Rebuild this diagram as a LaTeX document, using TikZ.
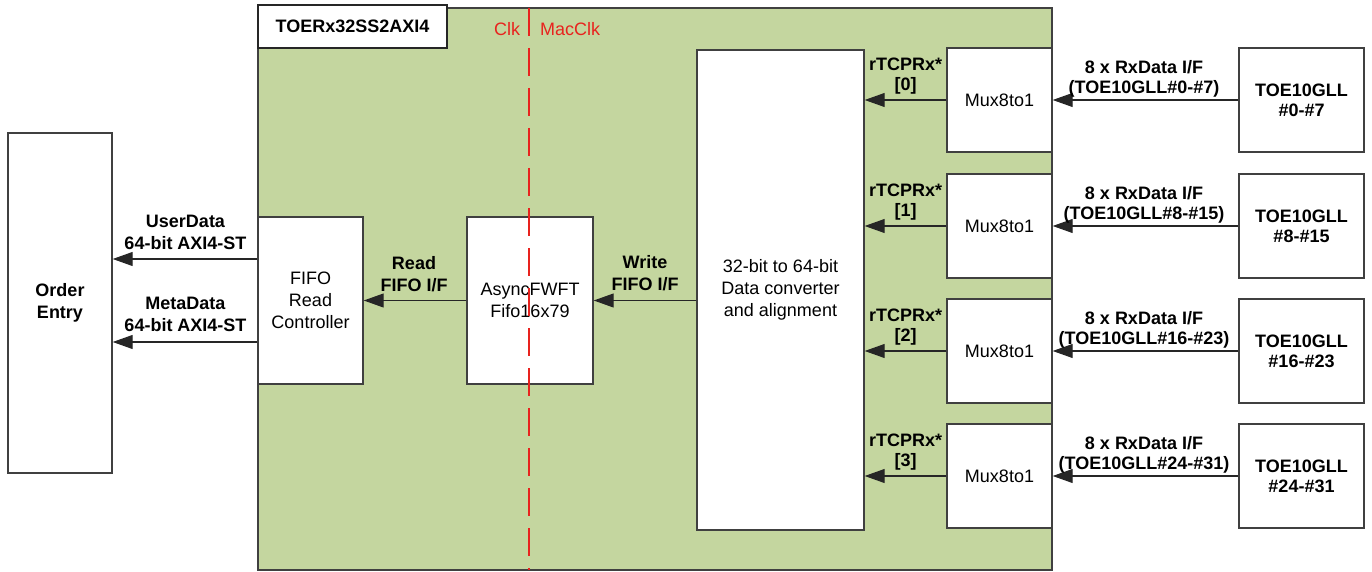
\documentclass[tikz,border=0pt]{standalone}
\usepackage{fontspec}
\setmainfont{Liberation Sans}
\usetikzlibrary{arrows.meta,calc}
\definecolor{grn}{HTML}{C4D69F}
\definecolor{edgegray}{HTML}{404040}
\definecolor{clkred}{HTML}{E8231E}
\newcommand\dfont{\fontsize{18}{22}\selectfont}
\newcommand\rfont{\fontsize{18}{20}\selectfont}
\begin{document}
\begin{tikzpicture}[x=1pt,y=-1pt,
  box/.style={draw=edgegray, line width=1.4pt, fill=white, inner sep=0pt, align=center, font=\dfont},
  bbox/.style={box, font=\dfont\bfseries},
  lbl/.style={inner sep=0pt, align=center, font=\dfont\bfseries},
  rlbl/.style={inner sep=0pt, align=center, font=\rfont\bfseries},
  arr/.style={draw=black!85, line width=1.1pt, -{Triangle[length=20pt,width=14pt]}},
  clklbl/.style={inner sep=0pt, text=clkred, font=\dfont}]
\useasboundingbox (0,0) rectangle (1372,572);
% subsystem background
\node[draw=edgegray, line width=1.4pt, fill=grn, inner sep=0pt, minimum width=794pt, minimum height=562pt] (sub) at (655,289) {};
% clock domain divider
\coordinate (clktop) at (529,8);
\coordinate (clkbot) at (529,570);
\node[clklbl] (clk) at (507,29) {Clk};
\node[clklbl] (macclk) at (570,29) {MacClk};
% title
\node[draw=black!85, line width=2pt, fill=white, inner sep=0pt, minimum width=189pt, minimum height=43pt, font=\dfont\bfseries] (title) at (352.5,26.5) {TOERx32SS2AXI4};
% blocks
\node[bbox, minimum width=104pt, minimum height=340pt] (order) at (60,303) {Order\\Entry};
\node[box, minimum width=105pt, minimum height=167pt] (frc) at (310.5,300.5) {FIFO\\Read\\Controller};
\node[box, minimum width=126pt, minimum height=167pt] (fifo) at (530,300.5) {AsyncFWFT\\Fifo16x79};
\node[box, minimum width=167pt, minimum height=480pt] (conv) at (780.5,290) {32-bit to 64-bit\\Data converter\\and alignment};
% divider drawn over the fifo
\draw[clkred, line width=1.6pt, dash pattern=on 28pt off 12pt] (clktop) -- (clkbot);
% arrows left side
\draw[arr] (frc.west |- 0,259) -- (order.east |- 0,259);
\draw[arr] (frc.west |- 0,342) -- (order.east |- 0,342);
\node[lbl] (lud) at (185.5,232) {UserData\\64-bit AXI4-ST};
\node[lbl] (lmd) at (185.5,314.5) {MetaData\\64-bit AXI4-ST};
\draw[arr] (fifo.west) -- (frc.east);
\node[lbl] (lrd) at (414,274) {Read\\FIFO I/F};
\draw[arr] (conv.west |- fifo.west) -- (fifo.east);
\node[lbl] (lwr) at (645,273.5) {Write\\FIFO I/F};
% mux rows
\foreach \i/\y/\rng in {0/100/{\#0-\#7}, 1/226/{\#8-\#15}, 2/351/{\#16-\#23}, 3/476/{\#24-\#31}} {
  \node[box, minimum width=105pt, minimum height=104pt] (mux\i) at (999.5,\y) {Mux8to1};
  \node[bbox, minimum width=125pt, minimum height=104pt, font=\rfont\bfseries] (toe\i) at (1301.5,\y) {TOE10GLL\\\rng};
  \draw[arr] (mux\i.west) -- (conv.east |- mux\i.west);
  \draw[arr] (toe\i.west) -- (mux\i.east);
  \node[rlbl] (lrx\i) at (905.5,\y-24) {rTCPRx*\\{[\i]}};
  \node[rlbl] (lin\i) at (1144,\y-21.5) {8 x RxData I/F\\(TOE10GLL\rng)};
}
\end{tikzpicture}
\end{document}
